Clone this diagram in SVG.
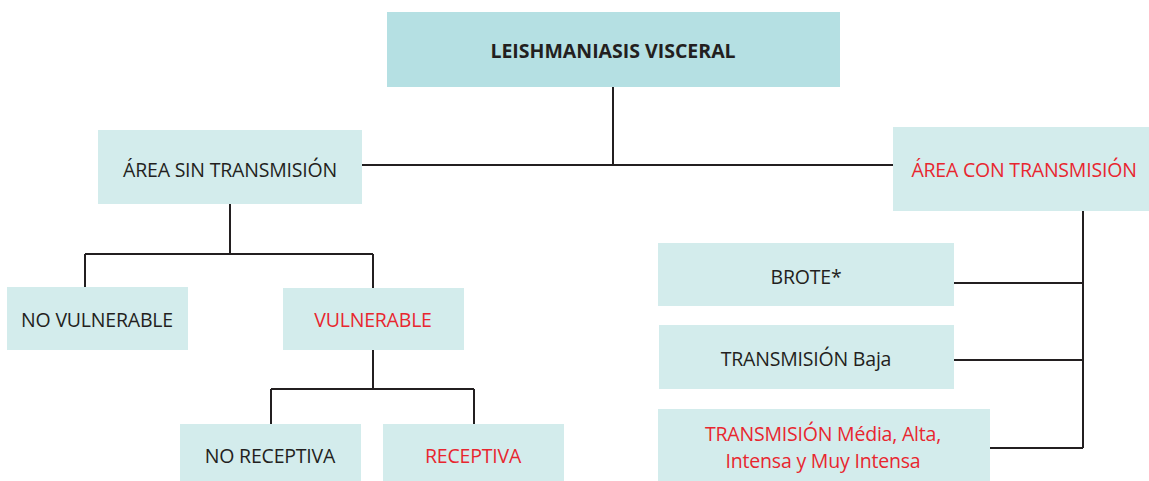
<svg xmlns="http://www.w3.org/2000/svg" width="1149" height="481" viewBox="0 0 1149 481">
  <style>
    .box { fill: #d3ecec; }
    .box-main { fill: #b5e0e3; }
    .lbl { font-family: "Open Sans", "Noto Sans", sans-serif; font-size: 19.5px; letter-spacing: -0.2px; fill: #231f20; text-anchor: middle; }
    .red { fill: #e8262f; }
    .title { font-weight: bold; font-size: 19.5px; letter-spacing: 0; }
    .conn { fill: none; stroke: #231f20; stroke-width: 2; }
  </style>
  <rect width="1149" height="481" fill="#ffffff"/>

  <g id="connectors">
    <path class="conn" d="M613 87V165M362 165H893"/>
    <path class="conn" d="M230 204V254M85 254H373M85 254V287M373 254V288"/>
    <path class="conn" d="M373 350V389M271 389H474M271 389V424M474 389V424"/>
    <path class="conn" d="M1083 211V448M954 283H1083M954 360H1083M990 448H1083"/>
  </g>

  <g id="leishmaniasis">
    <rect class="box-main" x="387" y="12" width="453" height="75"/>
    <text class="lbl title" x="613" y="58">LEISHMANIASIS VISCERAL</text>
  </g>

  <g id="area-sin">
    <rect class="box" x="98" y="130" width="264" height="74"/>
    <text class="lbl" x="230" y="177">ÁREA SIN TRANSMISIÓN</text>
  </g>

  <g id="area-con">
    <rect class="box" x="893" y="127" width="256" height="84"/>
    <text class="lbl red" x="1024" y="177">ÁREA CON TRANSMISIÓN</text>
  </g>

  <g id="no-vulnerable">
    <rect class="box" x="7" y="287" width="181" height="63"/>
    <text class="lbl" x="97" y="327">NO VULNERABLE</text>
  </g>

  <g id="vulnerable">
    <rect class="box" x="283" y="288" width="181" height="62"/>
    <text class="lbl red" x="373" y="327">VULNERABLE</text>
  </g>

  <g id="no-receptiva">
    <rect class="box" x="180" y="424" width="181" height="57"/>
    <text class="lbl" x="270" y="463">NO RECEPTIVA</text>
  </g>

  <g id="receptiva">
    <rect class="box" x="383" y="424" width="181" height="57"/>
    <text class="lbl red" x="473" y="463">RECEPTIVA</text>
  </g>

  <g id="brote">
    <rect class="box" x="658" y="243" width="296" height="63"/>
    <text class="lbl" x="806" y="284">BROTE*</text>
  </g>

  <g id="transmision-baja">
    <rect class="box" x="659" y="325" width="295" height="64"/>
    <text class="lbl" x="806" y="366">TRANSMISIÓN Baja</text>
  </g>

  <g id="transmision-media">
    <rect class="box" x="658" y="409" width="332" height="72"/>
    <text class="lbl red" x="823" y="441">TRANSMISIÓN Média, Alta,</text>
    <text class="lbl red" x="823" y="468">Intensa y Muy Intensa</text>
  </g>
</svg>
